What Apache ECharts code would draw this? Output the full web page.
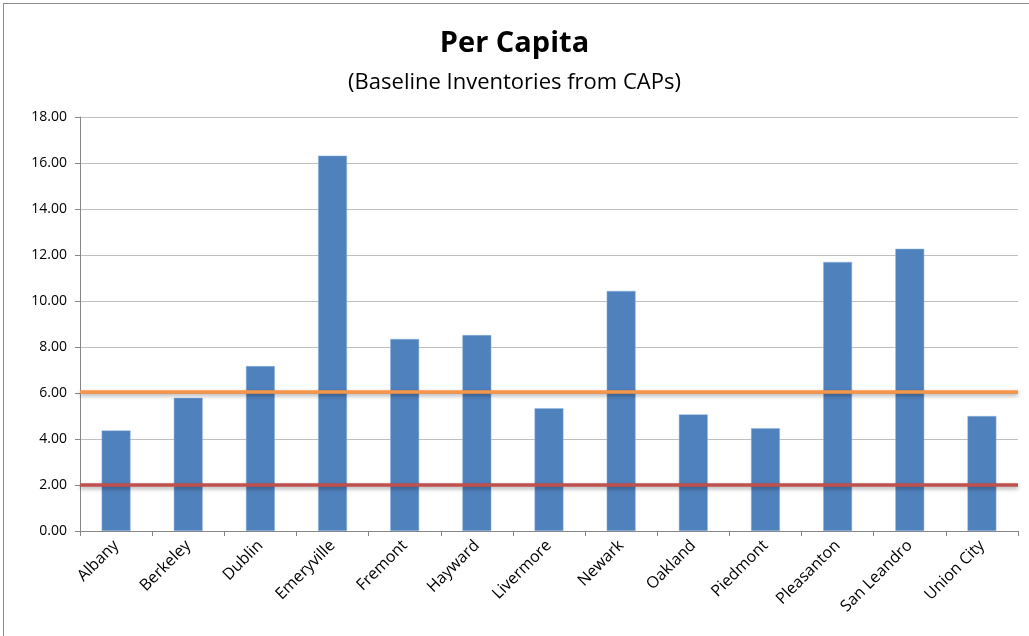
<!DOCTYPE html>
<html>
<head>
<meta charset="utf-8">
<script src="https://cdn.jsdelivr.net/npm/echarts@6/dist/echarts.min.js"></script>
<style>
  html, body { margin: 0; padding: 0; background: #fff; }
  #frame { position: absolute; left: 3px; top: 3px; width: 1040px; height: 650px; border: 1px solid #8c8c8c; box-sizing: border-box; }
  #main { width: 1029px; height: 636px; position: absolute; left: 0; top: 0; }
</style>
</head>
<body>
<div id="frame"></div>
<div id="main"></div>
<script>
// chart data
const cities = ['Albany', 'Berkeley', 'Dublin', 'Emeryville', 'Fremont', 'Hayward', 'Livermore',
  'Newark', 'Oakland', 'Piedmont', 'Pleasanton', 'San Leandro', 'Union City']
const perCapita = [4.37, 5.79, 7.17, 16.32, 8.35, 8.52, 5.34, 10.44, 5.07, 4.47, 11.70, 12.27, 5.00]
const upperRef = 6.05
const lowerRef = 2.02
const yTicks = [0, 2, 4, 6, 8, 10, 12, 14, 16, 18]

const font = 'Open Sans'
let myChart = echarts.init(document.getElementById('main'))
myChart.setOption({
  animation: false,
  title: {
    text: 'Per Capita',
    subtext: '(Baseline Inventories from CAPs)',
    left: 'center',
    top: 24,
    itemGap: 14,
    textStyle: { fontFamily: font, fontSize: 29, fontWeight: 'bold', color: '#000' },
    subtextStyle: { fontFamily: font, fontSize: 22, color: '#000' }
  },
  grid: { left: 80, right: 11, top: 117, bottom: 105 },
  xAxis: {
    type: 'category',
    data: cities,
    axisLine: { lineStyle: { color: '#868686' } },
    axisTick: { show: true, length: 5, lineStyle: { color: '#868686' } },
    axisLabel: { rotate: 45, fontFamily: font, fontSize: 16, color: '#000', margin: 12 }
  },
  yAxis: {
    type: 'value',
    min: yTicks[0],
    max: yTicks[yTicks.length - 1],
    interval: 2,
    axisLine: { show: true, lineStyle: { color: '#868686' } },
    axisTick: { show: true, length: 5, lineStyle: { color: '#868686' } },
    splitLine: { lineStyle: { color: '#bfbfbf' } },
    axisLabel: { fontFamily: font, fontSize: 14, color: '#000', margin: 13,
      formatter: v => v.toFixed(2) }
  },
  series: [{
    type: 'bar',
    data: perCapita,
    barWidth: '40%',
    itemStyle: { color: '#4f81bd', borderColor: '#8eb4e3', borderWidth: 0.5 },
    markLine: {
      symbol: 'none',
      silent: true,
      label: { show: false },
      data: [
        { yAxis: upperRef, lineStyle: { color: '#f79646', width: 3.5, type: 'solid',
          shadowColor: 'rgba(0,0,0,0.35)', shadowBlur: 4, shadowOffsetY: 2 } },
        { yAxis: lowerRef, lineStyle: { color: '#c0504d', width: 3.5, type: 'solid',
          shadowColor: 'rgba(0,0,0,0.35)', shadowBlur: 4, shadowOffsetY: 2 } }
      ]
    }
  }]
})
</script>
</body>
</html>
